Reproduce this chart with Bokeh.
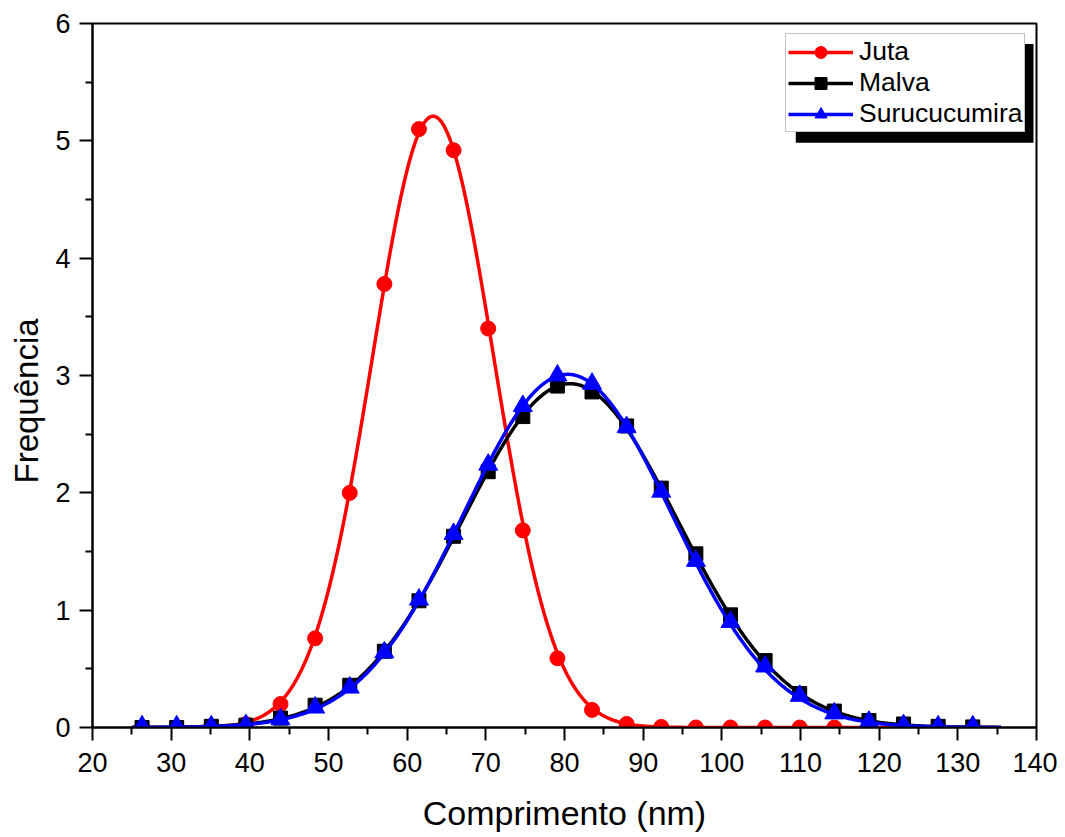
import numpy as np
from bokeh.plotting import figure
from bokeh.models import (Range1d, FixedTicker, Legend, LegendItem, BoxAnnotation, Title)
from bokeh.embed import file_html
from bokeh.resources import INLINE

# ---- data ----
bins = [26.3, 30.7, 35.1, 39.5, 43.9, 48.3, 52.7, 57.1, 61.5, 65.9, 70.3, 74.7,
        79.1, 83.5, 87.9, 92.3, 96.7, 101.1, 105.5, 109.9, 114.3, 118.7, 123.1,
        127.5, 131.9]

juta = [0.0, 0.0, 0.01, 0.03, 0.20, 0.76, 2.00, 3.78, 5.10, 4.92, 3.40, 1.68,
        0.59, 0.15, 0.03, 0.005, 0.0, 0.0, 0.0, 0.0, 0.0, 0.0, 0.0, 0.0, 0.0]

malva = [0.0, 0.0, 0.01, 0.02, 0.08, 0.19, 0.36, 0.65, 1.08, 1.63, 2.18, 2.65,
         2.91, 2.86, 2.57, 2.04, 1.48, 0.96, 0.57, 0.29, 0.14, 0.06, 0.03, 0.01, 0.005]

surucucumira = [0.01, 0.01, 0.01, 0.02, 0.07, 0.17, 0.34, 0.64, 1.09, 1.65, 2.24, 2.74,
                3.00, 2.93, 2.56, 2.01, 1.42, 0.90, 0.52, 0.27, 0.12, 0.05, 0.02, 0.01, 0.01]

# Gaussian fit parameters (peak height, centre, sigma)
fit_juta = (5.21, 63.3, 7.7)
fit_malva = (2.93, 80.7, 13.6)
fit_suru = (3.01, 80.4, 13.2)
fit_range = (25.0, 135.5)

x_ticks = [20, 30, 40, 50, 60, 70, 80, 90, 100, 110, 120, 130, 140]
y_ticks = [0, 1, 2, 3, 4, 5, 6]

FONT = "Liberation Sans"

p = figure(width=1057, height=834, output_backend="svg", toolbar_location=None,
           x_range=Range1d(20, 140), y_range=Range1d(0, 6),
           min_border_left=91, min_border_right=21, min_border_top=23,
           min_border_bottom=107)

p.grid.visible = False
p.outline_line_color = "black"
p.outline_line_width = 2
p.background_fill_color = "white"
p.border_fill_color = "white"

xm = [x + 5 for x in x_ticks[:-1]]
ym = [y + 0.5 for y in y_ticks[:-1]]
p.xaxis.ticker = FixedTicker(ticks=x_ticks, minor_ticks=xm)
p.yaxis.ticker = FixedTicker(ticks=y_ticks, minor_ticks=ym)

for ax in (p.xaxis[0], p.yaxis[0]):
    ax.axis_line_width = 2
    ax.axis_line_color = "black"
    ax.major_tick_line_width = 2
    ax.minor_tick_line_width = 2
    ax.major_tick_in = 0
    ax.major_tick_out = 13
    ax.minor_tick_in = 0
    ax.minor_tick_out = 7
    ax.major_label_text_font = FONT
    ax.major_label_text_font_size = "27px"
    ax.major_label_text_color = "black"
    ax.axis_label_text_font = FONT
    ax.axis_label_text_font_style = "normal"
    ax.axis_label_text_color = "black"

p.xaxis.axis_label = "Comprimento (nm)"
p.xaxis.axis_label_text_font_size = "34px"
p.xaxis.major_label_standoff = 12
p.xaxis.axis_label_standoff = 19
p.yaxis.major_label_standoff = 9

# y-axis title, placed a little below the frame centre as in the reference
ytitle = Title(text="Frequência", align="left", offset=244, vertical_align="middle",
               text_font=FONT, text_font_size="33px", text_font_style="normal",
               text_color="black", standoff=13)
p.add_layout(ytitle, "left")

xs = np.linspace(fit_range[0], fit_range[1], 600)


def gauss(params):
    a, c, s = params
    return a * np.exp(-((xs - c) ** 2) / (2 * s ** 2))


series = [
    ("Juta", juta, fit_juta, "#ff0000", "circle", 15),
    ("Malva", malva, fit_malva, "#000000", "square", 14),
    ("Surucucumira", surucucumira, fit_suru, "#0000ff", "triangle", 19),
]

items = []
for name, vals, fit, col, mk, sz in series:
    ln = p.line(xs, gauss(fit), line_color=col, line_width=3.5)
    sc = p.scatter(bins, vals, marker=mk, size=sz, fill_color=col, line_color=col)
    items.append(LegendItem(label=name, renderers=[ln, sc]))

# legend drop shadow
shadow = BoxAnnotation(left=109.4, right=139.62, top=5.826, bottom=4.983,
                       fill_color="black", fill_alpha=1.0, line_color=None)
p.add_layout(shadow)

legend = Legend(items=items, location=(693, 595), margin=0, padding=2,
                spacing=0, glyph_width=65, glyph_height=30, label_height=30,
                label_standoff=6, label_text_font=FONT,
                label_text_font_size="26.5px", label_text_color="black",
                border_line_color="#888888", border_line_width=1,
                background_fill_color="white", background_fill_alpha=1.0)
p.add_layout(legend)

open("out.html", "w").write(file_html(p, INLINE))
